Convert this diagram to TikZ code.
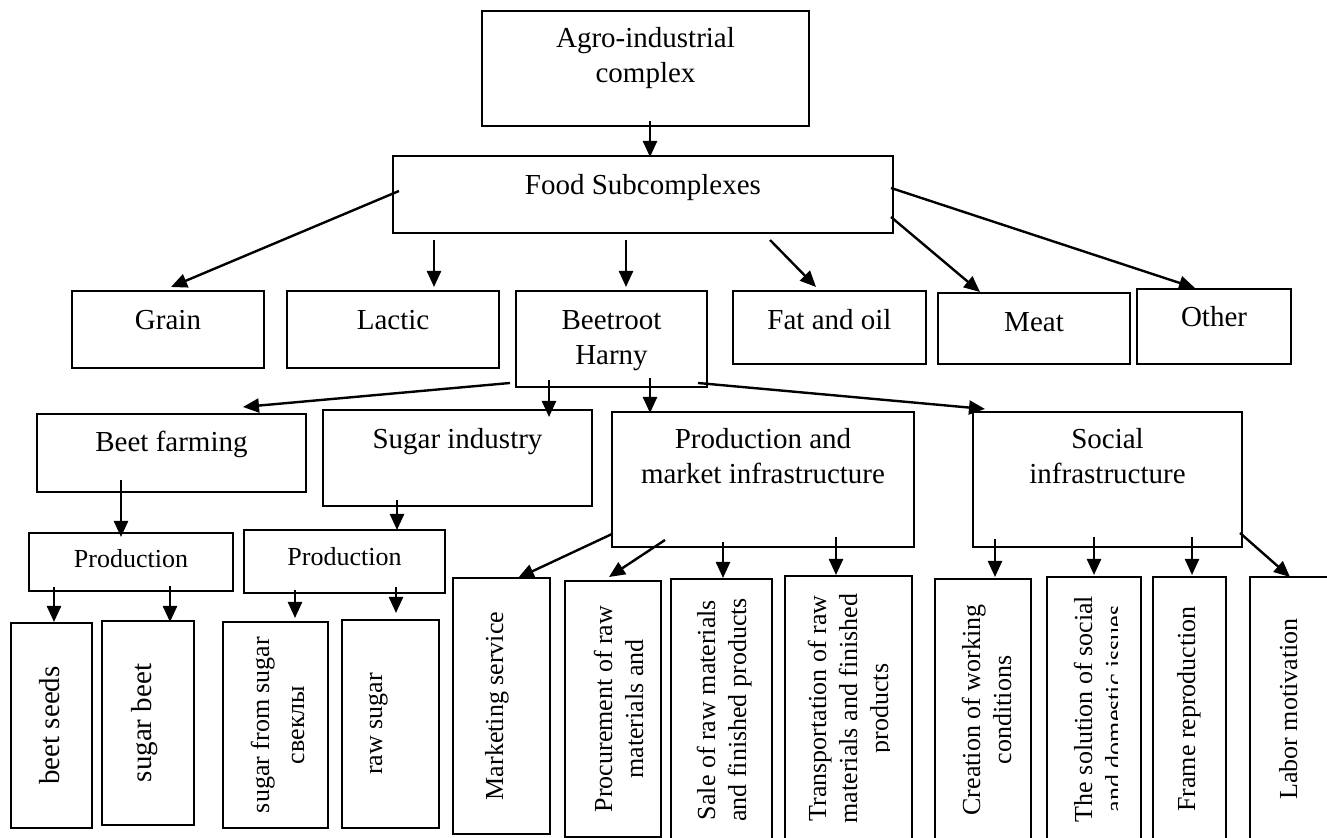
\documentclass[tikz,border=0pt]{standalone}
\usepackage{fontspec}
\setmainfont{Liberation Serif}
\usepackage{graphicx}
\usetikzlibrary{arrows.meta}

\newlength\pxunit
\setlength\pxunit{0.5pt}
\newcommand\mainsize{\fontsize{14.5}{17.5}\selectfont}
\newcommand\subsize{\fontsize{13}{15.5}\selectfont}
% text block of a box: width, height, first baseline, text (all in pixels)
\newcommand\celltext[4]{\parbox[t][#2\pxunit][t]{#1\pxunit}{\centering\rule{0pt}{#3\pxunit}#4}}
% the same block, turned to read upwards
\newcommand\vcelltext[4]{\rotatebox{90}{\celltext{#2}{#1}{#3}{#4}}}

\begin{document}
\begin{tikzpicture}[x=0.5pt, y=-0.5pt,
    cell/.style={inner sep=0pt, outer sep=0pt, anchor=north west, font=\mainsize},
    box/.style={cell, draw, line width=1pt},
    frame line/.style={line width=1pt},
    arr/.style={line width=1.2pt, -{Triangle[length=8pt,width=7pt]}}]
  \useasboundingbox (0,0) rectangle (1327,838);

  % Upper boxes: name/left/top/width/height/first baseline/text
  \foreach \nm/\xa/\ya/\w/\h/\off/\txt in {
      agro/482/11/327/115/37/Agro-industrial\\complex,
      food/393/156/500/77/39/Food Subcomplexes,
      grain/72/291/192/77/39/Grain,
      lactic/287/291/212/77/39/Lactic,
      beet/516/291/191/96/39/Beetroot\\Harny,
      fat/733/291/193/73/39/Fat and oil,
      meat/938/293/192/71/39/Meat,
      other/1137/289/154/75/38/Other,
      farm/37/414/269/78/38/Beet farming,
      sugar/323/410/269/96/39/Sugar industry,
      pmi/612/412/302/135/37/Production and\\market infrastructure,
      social/973/412/269/135/37/Social\\infrastructure,
      prodA/29/533/204/58/35/\subsize Production,
      prodB/244/530/201/63/36/\subsize Production}
    \node[box] (\nm) at (\xa,\ya) {\celltext{\w}{\h}{\off}{\txt}};

  % Lower boxes, text read upwards: name/left/top/right/bottom/first baseline/clip/text
  \foreach \nm/\xa/\ya/\xb/\yb/\off/\xc/\txt in {
      seeds/11/623/92/828/48/92/\mainsize beet seeds,
      sbeet/102/621/194/825/49/194/\mainsize sugar beet,
      sfrom/223/622/328/828/46/328/sugar from sugar\\[2pt]свеклы,
      raw/342/620/439/828/40/439/raw sugar,
      mkt/453/578/550/834/50/550/Marketing service,
      proc/565/581/661/837/47/661/Procurement of raw\\materials and,
      sale/671/579/772/841/44/772/Sale of raw materials\\and finished products,
      trans/785/576/912/841/41/889/Transportation of raw\\materials and finished\\products,
      create/935/579/1031/841/45/1031/Creation of working\\conditions,
      solve/1047/577/1141/841/45/1117/The solution of social\\and domestic issues,
      frame/1153/577/1226/841/42/1226/Frame reproduction,
      labor/1250/577/1340/841/47/1340/Labor motivation}
  {
    \pgfmathsetmacro\w{\xb-\xa}
    \pgfmathsetmacro\h{\yb-\ya}
    \begin{scope}
      \clip (\xa,\ya) rectangle (\xc,\yb);
      \node[cell, font=\subsize] (\nm) at (\xa,\ya) {\vcelltext{\w}{\h}{\off}{\txt}};
    \end{scope}
    \draw[frame line] (\nm.north west) rectangle (\nm.south east);
  }

  % Arrows: from anchor + shift to anchor + shift
  \foreach \a/\ax/\ay/\b/\bx/\by in {
      agro.south west/168/-5/food.north west/257/1,
      food.north west/6/35/grain.north west/99/-4,
      food.south west/41/7/lactic.north west/147/-4,
      food.south west/233/7/beet.north west/110/-4,
      food.south west/377/7/fat.north west/83/-4,
      food.north east/-2/61/meat.north west/42/-1,
      food.north east/-2/32/other.north west/58/-1,
      beet.south west/-6/-4/farm.north west/206/-7,
      beet.south west/33/-7/sugar.north west/226/7,
      beet.south west/134/-9/pmi.north west/38/1,
      beet.south east/-9/-4/social.north west/12/-3,
      farm.south west/84/-12/prodA.north west/92/4,
      sugar.south west/74/-6/prodB.north west/153/0,
      prodA.south west/25/-4/seeds.north west/43/-1,
      prodA.south west/141/-5/sbeet.north west/68/1,
      prodB.south west/51/-3/sfrom.north west/72/-4,
      prodB.south west/152/-6/raw.north west/54/-7,
      pmi.south west/0/-13/mkt.north west/65/0,
      pmi.south west/53/-7/proc.north west/44/-4,
      pmi.south west/111/-5/sale.north west/52/-1,
      pmi.south west/224/-10/trans.north west/51/-1,
      social.south west/22/-8/create.north west/60/-2,
      social.south west/121/-10/solve.north west/47/-2,
      social.south west/219/-10/frame.north west/39/-2,
      social.south east/-2/-14/labor.north west/40/0}
    \draw[arr] ([shift={(\ax,\ay)}]\a) -- ([shift={(\bx,\by)}]\b);
\end{tikzpicture}
\end{document}
